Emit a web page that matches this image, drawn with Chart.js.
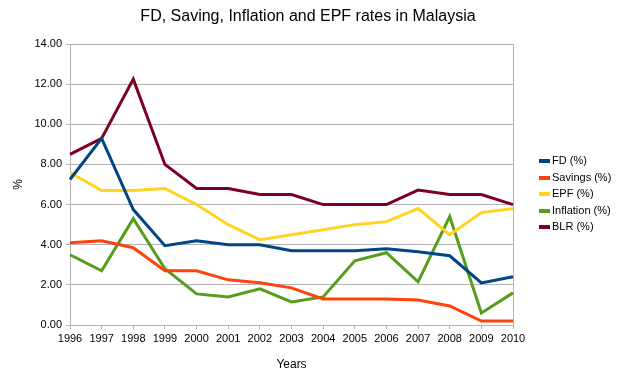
<!DOCTYPE html>
<html>
<head>
<meta charset="utf-8">
<script src="https://cdn.jsdelivr.net/npm/chart.js@4.4.0/dist/chart.umd.min.js"></script>
<style>
  html, body { margin: 0; padding: 0; background: #fff; }
  #wrap { position: relative; width: 621px; height: 388px; }
  #title {
    position: absolute; left: 0; top: 7px; width: 616px; text-align: center;
    font: 16px "Liberation Sans", Arial, sans-serif; color: #000;
  }
  #legend {
    position: absolute; left: 539px; top: 152px;
    font: 11px "Liberation Sans", Arial, sans-serif; color: #000;
  }
  #legend div { height: 16.6px; line-height: 16.6px; white-space: nowrap; }
  #legend span.sw { display: inline-block; width: 11px; height: 4px; margin-right: 2px; vertical-align: middle; }
</style>
</head>
<body>
<div id="wrap">
  <canvas id="chart" width="621" height="388"></canvas>
  <div id="title">FD, Saving, Inflation and EPF rates in Malaysia</div>
  <div id="legend"></div>
</div>
<script>
// ── Data ────────────────────────────────────────────────────

const years = ["1996", "1997", "1998", "1999", "2000", "2001", "2002", "2003",
               "2004", "2005", "2006", "2007", "2008", "2009", "2010"];

const fdRates        = [7.25, 9.3, 5.75, 3.95, 4.2, 4.0, 4.0, 3.7, 3.7, 3.7, 3.8, 3.65, 3.45, 2.1, 2.4];
const savingsRates   = [4.1, 4.2, 3.85, 2.7, 2.7, 2.25, 2.1, 1.85, 1.3, 1.3, 1.3, 1.25, 0.95, 0.2, 0.2];
const epfRates       = [7.6, 6.7, 6.7, 6.8, 6.0, 5.0, 4.25, 4.5, 4.75, 5.0, 5.15, 5.8, 4.5, 5.6, 5.8];
const inflationRates = [3.5, 2.7, 5.3, 2.8, 1.55, 1.4, 1.8, 1.15, 1.4, 3.2, 3.6, 2.15, 5.4, 0.6, 1.6];
const blrRates       = [8.5, 9.3, 12.25, 8.0, 6.8, 6.8, 6.5, 6.5, 6.0, 6.0, 6.0, 6.72, 6.5, 6.5, 6.0];

const seriesLabels = ["FD (%)", "Savings (%)", "EPF (%)", "Inflation (%)", "BLR (%)"];
const seriesColors = ["#004586", "#ff420e", "#ffd320", "#579d1c", "#7e0021"];
const seriesData = [fdRates, savingsRates, epfRates, inflationRates, blrRates];

const yTicks = [0, 2, 4, 6, 8, 10, 12, 14];

// ── Chart ───────────────────────────────────────────────────

const FONT = "'Liberation Sans', Arial, sans-serif";
const GRID = "#b3b3b3";

const chart = new Chart(document.getElementById("chart"), {
  type: "line",
  data: {
    labels: years,
    datasets: seriesData.map((values, i) => ({
      label: seriesLabels[i],
      data: values,
      borderColor: seriesColors[i],
      backgroundColor: seriesColors[i],
      borderWidth: 3,
      pointRadius: 0,
      tension: 0,
    })),
  },
  options: {
    responsive: false,
    animation: false,
    layout: { padding: { top: 44, right: 108, bottom: 0, left: 0 } },
    plugins: {
      legend: { display: false },
      tooltip: { enabled: false },
    },
    scales: {
      x: {
        offset: false,
        grid: {
          drawOnChartArea: true,
          color: (ctx) => (ctx.index === years.length - 1 ? GRID : "rgba(0,0,0,0)"),
          tickColor: GRID,
          tickLength: 4,
        },
        border: { color: GRID, width: 1 },
        ticks: { color: "#000", font: { family: FONT, size: 11 }, padding: 3, maxRotation: 0, autoSkip: false },
        title: {
          display: true, text: "Years", color: "#000",
          font: { family: FONT, size: 12 }, padding: { top: 4, bottom: 16 },
        },
        afterFit: (scale) => { scale.height = 63; },
      },
      y: {
        min: yTicks[0],
        max: yTicks[yTicks.length - 1],
        afterBuildTicks: (scale) => { scale.ticks = yTicks.map((v) => ({ value: v })); },
        grid: { color: GRID, tickColor: GRID, tickLength: 4 },
        border: { color: GRID, width: 1 },
        ticks: {
          color: "#000", font: { family: FONT, size: 11 }, padding: 4,
          callback: (v) => Number(v).toFixed(2),
        },
        title: {
          display: true, text: "%", color: "#000",
          font: { family: FONT, size: 12 }, padding: { top: 11, bottom: 0 },
        },
        afterFit: (scale) => { scale.width = 70; },
      },
    },
  },
});

// ── Legend ──────────────────────────────────────────────────

document.getElementById("legend").innerHTML = seriesLabels
  .map((label, i) => `<div><span class="sw" style="background:${seriesColors[i]}"></span>${label}</div>`)
  .join("");
</script>
</body>
</html>
